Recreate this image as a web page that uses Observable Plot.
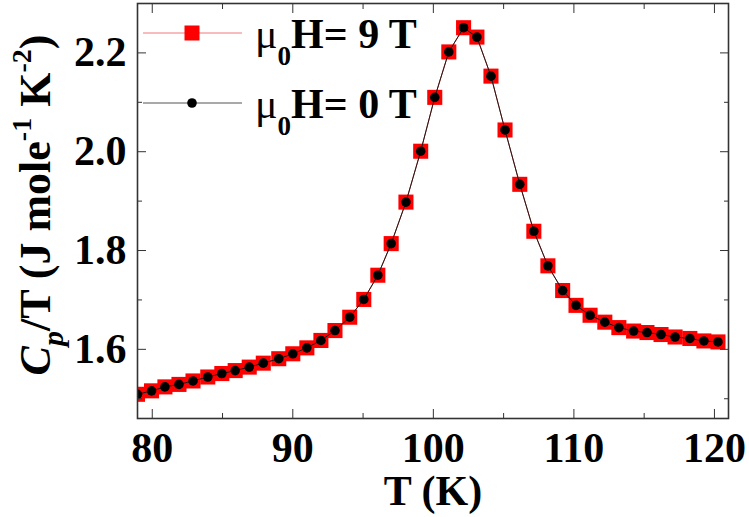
<!DOCTYPE html>
<html><head><meta charset="utf-8">
<script src="https://cdn.jsdelivr.net/npm/d3@7"></script>
<script src="https://cdn.jsdelivr.net/npm/@observablehq/plot@0.6"></script>
<style>
body{margin:0;background:#fff;}
#wrap{position:relative;width:749px;height:517px;}
#legend{position:absolute;left:0;top:0;pointer-events:none;}
</style></head><body><div id="wrap"></div>
<script>
const temperature = [78.95,79.95,80.9,81.9,82.9,83.95,84.95,85.9,86.9,87.9,89.0,90.0,91.0,92.0,93.0,94.05,95.05,96.05,
  97.0,98.05,99.1,100.1,101.1,102.15,103.1,104.1,105.1,106.15,107.15,108.15,109.2,110.15,111.15,112.2,113.2,114.25,115.2,116.2,117.2,118.25,119.25,120.25];
const cpH0 = [1.509,1.516,1.524,1.529,1.536,1.544,1.551,1.557,1.564,1.572,1.581,1.591,1.603,1.618,1.638,1.665,1.701,1.750,
  1.814,1.898,2.001,2.110,2.202,2.251,2.232,2.153,2.044,1.934,1.839,1.769,1.719,1.689,1.669,1.655,1.644,1.637,1.634,1.630,1.625,1.622,1.617,1.615];
const cpH9 = [1.509,1.516,1.524,1.529,1.536,1.544,1.551,1.557,1.564,1.572,1.581,1.591,1.603,1.618,1.638,1.665,1.701,1.750,
  1.814,1.898,2.001,2.110,2.202,2.251,2.232,2.153,2.044,1.934,1.839,1.769,1.719,1.689,1.669,1.655,1.644,1.637,1.634,1.630,1.625,1.622,1.617,1.615];
const xMajor = [80,90,100,110,120];
const xMinor = [85,95,105,115];
const yMajor = [1.6,1.8,2.0,2.2];
const yMinor = [1.5,1.7,1.9,2.1];
const legendFields = ["9 T","0 T"];
const xTitle = "T (K)";

const d9 = temperature.map((t,i)=>({T:t, cp:cpH9[i]}));
const d0 = temperature.map((t,i)=>({T:t, cp:cpH0[i]}));

const serif = "'Liberation Serif','Times New Roman',serif";
const chart = Plot.plot({
  width: 749, height: 517,
  marginLeft: 137, marginRight: 21, marginTop: 3, marginBottom: 99,
  style: {fontFamily: serif, fontWeight: "bold", fontSize: "42px", background: "white", color: "#000"},
  x: {domain: [78.95, 121], label: null},
  y: {domain: [1.46, 2.3], label: null},
  marks: [
    Plot.line(d9, {x:"T", y:"cp", stroke:"#ee3333", strokeWidth:1, clip:true}),
    Plot.dot(d9, {x:"T", y:"cp", symbol:"square", r:8.5, fill:"#ff0000", stroke:null, clip:true}),
    Plot.line(d0, {x:"T", y:"cp", stroke:"#1a1a1a", strokeWidth:1, clip:true}),
    Plot.dot(d0, {x:"T", y:"cp", r:4.8, fill:"#000", stroke:null, clip:true}),
    Plot.axisX(xMajor, {anchor:"bottom", tickSize:-9, tickFormat:()=>"", label:null, stroke:"#333"}),
    Plot.axisX(xMinor, {anchor:"bottom", tickSize:-5, tickFormat:()=>"", label:null, stroke:"#333"}),
    Plot.axisX(xMajor, {anchor:"top", tickSize:-9, tickFormat:()=>"", label:null, stroke:"#333"}),
    Plot.axisX(xMinor, {anchor:"top", tickSize:-5, tickFormat:()=>"", label:null, stroke:"#333"}),
    Plot.axisY(yMajor, {anchor:"left", tickSize:-9, tickFormat:()=>"", label:null, stroke:"#333"}),
    Plot.axisY(yMinor, {anchor:"left", tickSize:-5, tickFormat:()=>"", label:null, stroke:"#333"}),
    Plot.axisY(yMajor, {anchor:"right", tickSize:-9, tickFormat:()=>"", label:null, stroke:"#333"}),
    Plot.axisY(yMinor, {anchor:"right", tickSize:-5, tickFormat:()=>"", label:null, stroke:"#333"}),
    Plot.axisX(xMajor, {anchor:"bottom", tickSize:0, tickPadding:14, label:null, tickFormat:d=>d3.format("d")(d)}),
    Plot.axisY(yMajor, {anchor:"left", tickSize:0, tickPadding:11, label:null, tickFormat:d=>d3.format(".1f")(d)}),
    Plot.text([xTitle], {frameAnchor:"bottom", text:d=>d, textAnchor:"middle", lineAnchor:"bottom", dy:86, fontSize:42, fontWeight:"bold"}),
    Plot.text(["ylabel"], {frameAnchor:"left", text:d=>d, rotate:-90, textAnchor:"middle", lineAnchor:"middle", dx:-102, dy:-6, fontSize:44, fontWeight:"bold"}),
    Plot.frame({stroke:"#333", strokeWidth:1.6})
  ]
});
document.getElementById("wrap").appendChild(chart);

// y-axis title with sub/superscripts
const ytext = d3.select(chart).selectAll("text").filter(function(){return this.textContent==="ylabel";});
ytext.text(null);
ytext.append("tspan").attr("font-style","italic").text("C");
ytext.append("tspan").attr("font-style","italic").attr("font-size",30).attr("dy",13).text("p");
ytext.append("tspan").attr("dy",-13).text("/T (J mole");
ytext.append("tspan").attr("font-size",28).attr("dy",-19).text("-1");
ytext.append("tspan").attr("dy",19).text(" K");
ytext.append("tspan").attr("font-size",28).attr("dy",-19).text("-2");
ytext.append("tspan").attr("dy",19).text(")");

// legend
const leg = d3.select("#wrap").append("svg").attr("id","legend").attr("width",749).attr("height",517);
const rows = [{label: legendFields[0], line:"#f37a7a", kind:"square"}, {label: legendFields[1], line:"#555", kind:"dot"}];
rows.forEach((r,i)=>{
  const g = leg.append("g").attr("transform",`translate(0,${33+i*70})`);
  g.append("line").attr("x1",143).attr("x2",242).attr("y1",0).attr("y2",0).attr("stroke",r.line).attr("stroke-width",1.2);
  if (r.kind==="square") g.append("rect").attr("x",192-7.5).attr("y",-7.5).attr("width",15).attr("height",15).attr("fill","#ff0000");
  else g.append("circle").attr("cx",192).attr("cy",0).attr("r",4.8).attr("fill","#000");
  const t = g.append("text").attr("x",255).attr("y",15).attr("font-family",serif).attr("font-size",42).attr("font-weight","bold").attr("fill","#000");
  t.append("tspan").attr("font-weight","normal").text("μ");
  t.append("tspan").attr("font-size",27).attr("dy",17).text("0");
  t.append("tspan").attr("dy",-17).text("H= " + r.label);
});
</script></body></html>
